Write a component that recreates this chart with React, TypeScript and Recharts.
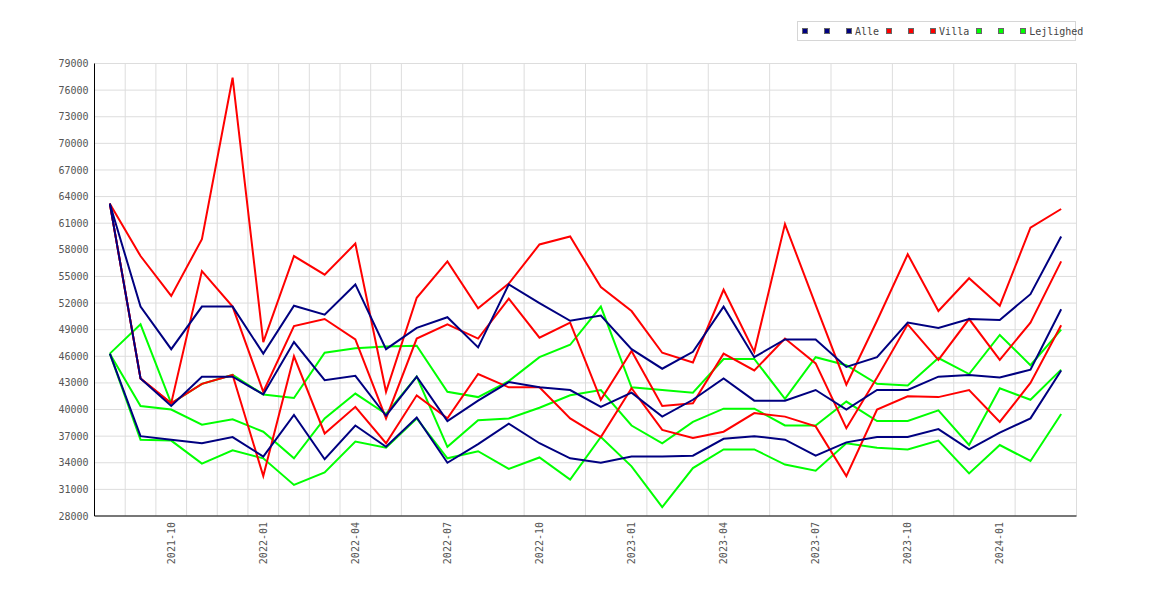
import React from 'react';
import { LineChart, Line, XAxis, YAxis, CartesianGrid } from 'recharts';

const months = [
  '2021-08', '2021-09', '2021-10', '2021-11', '2021-12', '2022-01', '2022-02', '2022-03',
  '2022-04', '2022-05', '2022-06', '2022-07', '2022-08', '2022-09', '2022-10', '2022-11',
  '2022-12', '2023-01', '2023-02', '2023-03', '2023-04', '2023-05', '2023-06', '2023-07',
  '2023-08', '2023-09', '2023-10', '2023-11', '2023-12', '2024-01', '2024-02', '2024-03',
];

const xTickLabels = ['2021-10', '2022-01', '2022-04', '2022-07', '2022-10', '2023-01', '2023-04', '2023-07', '2023-10', '2024-01'];

const yTicks = [28000, 31000, 34000, 37000, 40000, 43000, 46000, 49000, 52000, 55000, 58000, 61000, 64000, 67000, 70000, 73000, 76000, 79000];

const alleHigh = [63200, 51600, 46800, 51600, 51600, 46300, 51700, 50700, 54100, 46800, 49200, 50400, 47000, 54100, 52000, 50000, 50600, 46800, 44600, 46500, 51600, 45900, 47900, 47900, 44800, 45900, 49800, 49200, 50200, 50100, 53000, 59500];
const alleMid = [63200, 43500, 40400, 43700, 43700, 41700, 47600, 43300, 43800, 39300, 43700, 38700, 41000, 43100, 42500, 42200, 40300, 41900, 39200, 41100, 43500, 41000, 41000, 42200, 40000, 42200, 42200, 43700, 43900, 43600, 44500, 51300];
const alleLow = [46300, 37000, 36600, 36200, 36900, 34700, 39400, 34400, 38200, 35800, 39100, 34000, 36100, 38400, 36200, 34500, 34000, 34700, 34700, 34800, 36700, 37000, 36600, 34800, 36300, 36900, 36900, 37800, 35500, 37400, 39000, 44400];

const villaHigh = [63200, 57300, 52800, 59200, 77400, 47600, 57300, 55200, 58700, 42000, 52600, 56700, 51400, 54200, 58600, 59500, 53800, 51100, 46400, 45300, 53500, 46500, 60900, 51800, 42800, 50000, 57500, 51100, 54800, 51700, 60500, 62600];
const villaMid = [63200, 43500, 40700, 55600, 51600, 42000, 49400, 50200, 47900, 39000, 48000, 49600, 48000, 52500, 48100, 49800, 41100, 46600, 40400, 40700, 46300, 44400, 48000, 45200, 37900, 43600, 49600, 45600, 50200, 45600, 49800, 56700];
const villaLow = [63200, 43500, 40700, 42900, 43900, 32500, 46000, 37300, 40300, 36200, 41600, 39000, 44000, 42500, 42500, 39000, 36900, 42400, 37700, 36800, 37500, 39600, 39200, 38100, 32500, 40000, 41500, 41400, 42200, 38600, 43000, 49500];

const lejHigh = [46300, 49600, 40700, 42900, 43900, 41700, 41300, 46400, 46900, 47100, 47200, 42000, 41400, 43200, 45900, 47300, 51600, 42500, 42200, 41900, 45700, 45700, 41200, 45900, 45000, 42900, 42700, 45800, 44000, 48400, 45000, 49000];
const lejMid = [46300, 40400, 40000, 38300, 38900, 37500, 34500, 39000, 41800, 39500, 43700, 35800, 38800, 39000, 40200, 41600, 42200, 38200, 36200, 38600, 40100, 40100, 38200, 38200, 40900, 38700, 38700, 39900, 36000, 42400, 41100, 44500];
const lejLow = [46300, 36600, 36500, 33900, 35400, 34500, 31500, 32900, 36400, 35700, 39000, 34500, 35300, 33300, 34600, 32100, 36900, 33600, 29000, 33400, 35500, 35500, 33800, 33100, 36200, 35700, 35500, 36500, 32800, 36000, 34200, 39500];

const groups = [
  { name: 'Alle', color: '#000080', keys: ['alleHigh', 'alleMid', 'alleLow'] },
  { name: 'Villa', color: '#ff0000', keys: ['villaHigh', 'villaMid', 'villaLow'] },
  { name: 'Lejlighed', color: '#00ff00', keys: ['lejHigh', 'lejMid', 'lejLow'] },
];

const data = months.map((m, i) => ({
  i,
  month: m,
  alleHigh: alleHigh[i],
  alleMid: alleMid[i],
  alleLow: alleLow[i],
  villaHigh: villaHigh[i],
  villaMid: villaMid[i],
  villaLow: villaLow[i],
  lejHigh: lejHigh[i],
  lejMid: lejMid[i],
  lejLow: lejLow[i],
}));

const FONT = '"DejaVu Sans Mono", monospace';
const xTicks = xTickLabels.map((l) => months.indexOf(l));
const gridTicks = months.map((_, i) => i + 0.5);

const MonthTick = ({ x, y, payload }: any) => (
  <text
    x={x}
    y={y}
    transform={`rotate(-90 ${x} ${y})`}
    textAnchor="end"
    dominantBaseline="central"
    fontSize={10}
    fontFamily={FONT}
    fill="#555"
  >
    {months[payload.value]}
  </text>
);

const Legend = () => (
  <div
    style={{
      position: 'absolute',
      left: 797,
      top: 21,
      width: 279,
      height: 20,
      border: '1px solid #d6d6d6',
      background: '#fff',
      boxSizing: 'border-box',
      fontFamily: FONT,
      fontSize: 10,
      color: '#444',
      whiteSpace: 'nowrap',
    }}
  >
    <div style={{ position: 'absolute', left: 4, top: 0, height: 18, display: 'flex', alignItems: 'center' }}>
      {groups.map((g) =>
        g.keys.map((k, j) => (
          <div key={k} style={{ display: 'flex', alignItems: 'center', width: j < 2 ? 22 : undefined, marginRight: j < 2 ? 0 : 7 }}>
            <span style={{ display: 'inline-block', width: 6, height: 6, background: g.color, border: '1px solid #666', boxSizing: 'border-box' }} />
            {j === 2 && <span style={{ marginLeft: 3 }}>{g.name}</span>}
          </div>
        ))
      )}
    </div>
  </div>
);

export default function App() {
  // draw order: Lejlighed under Villa under Alle
  const drawOrder = [groups[2], groups[1], groups[0]];
  return (
    <div style={{ position: 'absolute', left: 0, top: 0, width: 1170, height: 600, background: '#fff' }}>
      <LineChart width={1170} height={600} data={data} margin={{ top: 63.5, right: 93.5, bottom: 0, left: 34.5 }}>
        <CartesianGrid xAxisId="grid" stroke="#dddddd" strokeWidth={1} />
        <XAxis
          xAxisId="grid"
          orientation="top"
          type="number"
          dataKey="i"
          domain={[-0.5, 31.5]}
          ticks={gridTicks}
          allowDataOverflow
          height={0}
          hide
        />
        <XAxis
          xAxisId="main"
          type="number"
          dataKey="i"
          domain={[-0.5, 31.5]}
          ticks={xTicks}
          interval={0}
          allowDataOverflow
          height={84}
          axisLine={{ stroke: '#000', strokeWidth: 1 }}
          tickLine={false}
          tickSize={4}
          tickMargin={2}
          tick={MonthTick}
        />
        <YAxis
          domain={[28000, 79000]}
          ticks={yTicks}
          interval={0}
          width={60}
          allowDataOverflow
          axisLine={{ stroke: '#000', strokeWidth: 1 }}
          tickLine={false}
          tickSize={4}
          tickMargin={2}
          tick={{ fontSize: 10, fontFamily: FONT, fill: '#555' }}
        />
        {drawOrder.map((g) =>
          g.keys.map((k) => (
            <Line
              key={k}
              xAxisId="main"
              type="linear"
              dataKey={k}
              stroke={g.color}
              strokeWidth={2}
              dot={false}
              activeDot={false}
              isAnimationActive={false}
            />
          ))
        )}
      </LineChart>
      <Legend />
    </div>
  );
}
